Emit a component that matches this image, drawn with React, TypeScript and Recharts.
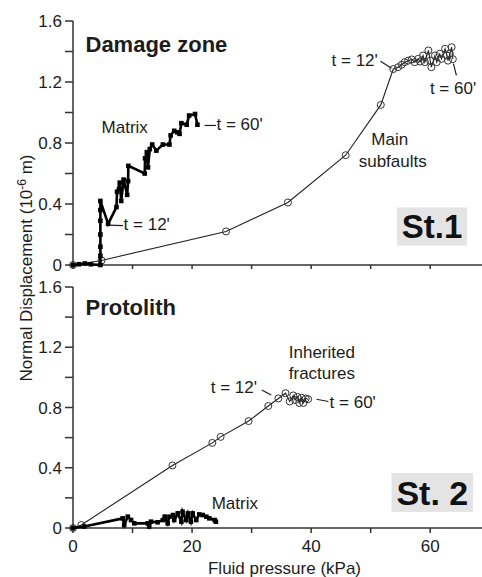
import React from 'react'
import {
  ScatterChart,
  Scatter,
  XAxis,
  YAxis,
  ReferenceDot,
  ReferenceLine,
  ReferenceArea,
} from 'recharts'

const FONT = '"Liberation Sans", Arial, Helvetica, sans-serif'
const INK = '#1c1c1c'

const xTicks = [0, 10, 20, 30, 40, 50, 60]
const yTicks = [0, 0.2, 0.4, 0.6, 0.8, 1.0, 1.2, 1.4, 1.6]

// St.1 (damage zone) - main subfaults, open circles
const st1FaultX = [0, 4.8, 25.7, 36.1, 45.8, 51.7, 53.8, 54.6, 55.2, 55.7, 56.3, 56.9, 57.4, 58.0, 58.3, 58.8, 59.1, 59.7, 60.0, 60.2, 60.8, 61.1, 61.6, 61.9, 62.5, 62.8, 63.0, 63.3, 63.6, 63.8]
const st1FaultY = [0, 0.03, 0.22, 0.41, 0.72, 1.05, 1.285, 1.297, 1.313, 1.33, 1.34, 1.348, 1.33, 1.352, 1.334, 1.374, 1.33, 1.407, 1.34, 1.297, 1.374, 1.33, 1.385, 1.352, 1.418, 1.374, 1.34, 1.385, 1.428, 1.35]

// St.1 - matrix, filled squares
const st1MatrixX = [0, 1, 2, 3, 4.6, 4.6, 4.6, 4.6, 4.6, 4.6, 4.6, 5.9, 7.3, 7.4, 7.85, 8.1, 8.5, 9.1, 9.25, 9.3, 12.05, 12.1, 12.4, 12.6, 12.9, 13.3, 14.0, 15.1, 16.2, 16.4, 17.0, 17.5, 17.9, 18.2, 19.1, 19.5, 20.5, 20.9]
const st1MatrixY = [0, 0.005, 0.01, 0.005, 0, 0.06, 0.12, 0.2, 0.29, 0.36, 0.42, 0.27, 0.38, 0.48, 0.54, 0.42, 0.56, 0.46, 0.55, 0.65, 0.6, 0.7, 0.74, 0.64, 0.76, 0.79, 0.75, 0.79, 0.79, 0.85, 0.88, 0.87, 0.86, 0.93, 0.92, 0.98, 0.99, 0.92]

// St.2 (protolith) - inherited fractures, open circles
const st2FractX = [0, 1.4, 16.7, 23.4, 24.8, 29.5, 32.8, 34.5, 35.7, 36.4, 37.0, 37.3, 37.7, 38.0, 38.4, 38.7, 39.1, 39.5]
const st2FractY = [0, 0.02, 0.415, 0.565, 0.605, 0.71, 0.81, 0.86, 0.895, 0.84, 0.88, 0.85, 0.87, 0.83, 0.865, 0.83, 0.86, 0.855]

// St.2 - matrix, filled squares
const st2MatrixX = [0, 1.9, 8.35, 8.6, 9.2, 9.75, 10.3, 12.55, 12.8, 13.1, 14.2, 15.1, 15.4, 15.9, 16.2, 16.8, 17.0, 17.6, 18.2, 18.4, 19.0, 19.3, 19.8, 20.1, 20.7, 21.2, 21.8, 22.4, 22.9, 23.8, 24.0]
const st2MatrixY = [0, 0.01, 0.064, 0.02, 0.075, 0.053, 0.031, 0.031, 0.01, 0.042, 0.038, 0.053, 0.075, 0.031, 0.075, 0.086, 0.053, 0.097, 0.042, 0.108, 0.053, 0.097, 0.042, 0.097, 0.053, 0.09, 0.086, 0.075, 0.064, 0.053, 0.042]

const zip = (xs: number[], ys: number[]) => xs.map((x, i) => ({ x, y: ys[i] }))

const st1Fault = zip(st1FaultX, st1FaultY)
const st1Matrix = zip(st1MatrixX, st1MatrixY)
const st2Fract = zip(st2FractX, st2FractY)
const st2Matrix = zip(st2MatrixX, st2MatrixY)

const yFmt = (v: number) => {
  const t = Math.round(v * 10)
  if (t % 4 !== 0) return ''
  return t === 0 ? '0' : v.toFixed(1)
}

const circleShape = (p: any) => (
  <circle cx={p.cx} cy={p.cy} r={3.5} fill="none" stroke="#333" strokeWidth={1} />
)
const squareShape = (p: any) => (
  <rect x={p.cx - 2.3} y={p.cy - 2.3} width={4.6} height={4.6} fill="#000" />
)

type NoteOpts = { anchor?: 'start' | 'middle' | 'end'; size?: number; bold?: boolean }

function note(key: string, x: number, y: number, text: string, opts: NoteOpts = {}) {
  return (
    <ReferenceDot
      key={key}
      x={x}
      y={y}
      r={0}
      shape={(p: any) => (
        <text
          x={p.cx}
          y={p.cy}
          textAnchor={opts.anchor || 'start'}
          fontSize={opts.size || 17}
          fontWeight={opts.bold ? 'bold' : 'normal'}
          fontFamily={FONT}
          fill={INK}
        >
          {text}
        </text>
      )}
    />
  )
}

function seg(key: string, x1: number, y1: number, x2: number, y2: number) {
  return (
    <ReferenceLine
      key={key}
      segment={[{ x: x1, y: y1 }, { x: x2, y: y2 }]}
      stroke={INK}
      strokeWidth={1.2}
    />
  )
}

function Axes({ bottomLabels }: { bottomLabels: boolean }) {
  const axisStyle = { stroke: '#333', strokeWidth: 1.5 }
  return [
    <XAxis
      key="xb"
      type="number"
      dataKey="x"
      domain={[0, 68.7]}
      ticks={xTicks}
      interval={0}
      height={bottomLabels ? 49 : 10}
      tickSize={bottomLabels ? 5 : 4}
      tickMargin={7}
      axisLine={axisStyle}
      tickLine={axisStyle}
      tick={{ fill: INK, fontSize: 17, fontFamily: FONT }}
      tickFormatter={(v: number) => (bottomLabels && v % 20 === 0 ? String(v) : '')}
      label={
        bottomLabels
          ? {
              value: 'Fluid pressure (kPa)',
              position: 'insideBottom',
              offset: 3,
              dx: 7,
              fill: INK,
              fontSize: 17,
              fontFamily: FONT,
            }
          : undefined
      }
    />,
    <XAxis
      key="xt"
      xAxisId="top"
      orientation="top"
      type="number"
      domain={[0, 68.7]}
      height={0}
      tick={false}
      tickLine={false}
      axisLine={axisStyle}
    />,
    <YAxis
      key="y"
      type="number"
      dataKey="y"
      domain={[0, 1.6]}
      ticks={yTicks}
      interval={0}
      width={73}
      tickSize={8}
      tickMargin={3}
      axisLine={axisStyle}
      tickLine={axisStyle}
      tick={{ fill: INK, fontSize: 17, fontFamily: FONT }}
      tickFormatter={yFmt}
    />,
  ]
}

export default function App() {
  return (
    <div
      style={{
        position: 'absolute',
        left: 0,
        top: 0,
        width: 482,
        height: 577,
        background: '#fff',
        overflow: 'hidden',
        fontFamily: FONT,
      }}
    >
      {/* St.1 - damage zone */}
      <div style={{ position: 'absolute', left: 0, top: 0 }}>
        <ScatterChart width={482} height={275} margin={{ top: 21, right: 0, bottom: 0, left: 0 }}>
          {Axes({ bottomLabels: false })}
          <ReferenceArea x1={54.4} x2={66.2} y1={0.128} y2={0.377} fill="#e4e4e4" fillOpacity={1} stroke="none"
            label={{ value: 'St.1', position: 'center', fontSize: 33, fontWeight: 'bold', fill: '#111', fontFamily: FONT }} />
          <Scatter data={st1Fault} line={{ stroke: '#222', strokeWidth: 1.1 }} shape={circleShape} isAnimationActive={false} />
          <Scatter data={st1Matrix} line={{ stroke: '#000', strokeWidth: 2.6 }} shape={squareShape} isAnimationActive={false} />
          {note('dz', 2.1, 1.395, 'Damage zone', { size: 22, bold: true })}
          {note('mx', 4.8, 0.864, 'Matrix')}
          {seg('s60m', 22.1, 0.915, 24.0, 0.915)}
          {note('t60m', 24.1, 0.882, "t = 60'")}
          {seg('s12m', 5.9, 0.262, 8.4, 0.258)}
          {note('t12m', 8.5, 0.231, "t = 12'")}
          {note('main', 53.2, 0.784, 'Main', { anchor: 'middle' })}
          {note('subf', 53.7, 0.641, 'subfaults', { anchor: 'middle' })}
          {seg('s12f', 51.65, 1.336, 53.5, 1.29)}
          {note('t12f', 51.2, 1.308, "t = 12'", { anchor: 'end' })}
          {seg('s60f', 63.9, 1.32, 64.4, 1.243)}
          {note('t60f', 59.95, 1.123, "t = 60'")}
        </ScatterChart>
      </div>

      {/* St.2 - protolith */}
      <div style={{ position: 'absolute', left: 0, top: 276 }}>
        <ScatterChart width={482} height={301} margin={{ top: 11, right: 0, bottom: 0, left: 0 }}>
          {Axes({ bottomLabels: true })}
          <ReferenceArea x1={53.5} x2={67.2} y1={0.106} y2={0.365} fill="#e4e4e4" fillOpacity={1} stroke="none"
            label={{ value: 'St. 2', position: 'center', fontSize: 34, fontWeight: 'bold', fill: '#111', fontFamily: FONT }} />
          <Scatter data={st2Fract} line={{ stroke: '#222', strokeWidth: 1.1 }} shape={circleShape} isAnimationActive={false} />
          <Scatter data={st2Matrix} line={{ stroke: '#000', strokeWidth: 2.6 }} shape={squareShape} isAnimationActive={false} />
          {note('pr', 2.1, 1.414, 'Protolith', { size: 22, bold: true })}
          {note('inh', 41.8, 1.13, 'Inherited', { anchor: 'middle' })}
          {note('frc', 41.8, 0.99, 'fractures', { anchor: 'middle' })}
          {seg('s12i', 31.7, 0.916, 33.3, 0.883)}
          {note('t12i', 30.9, 0.894, "t = 12'", { anchor: 'end' })}
          {seg('s60i', 40.9, 0.855, 42.9, 0.84)}
          {note('t60i', 43.1, 0.795, "t = 60'")}
          {note('mx2', 23.3, 0.124, 'Matrix')}
        </ScatterChart>
      </div>

      {/* shared y axis title */}
      <svg width={482} height={577} style={{ position: 'absolute', left: 0, top: 0, pointerEvents: 'none' }}>
        <text transform="translate(32,268) rotate(-90)" textAnchor="middle" fontSize={17} fontFamily={FONT} fill={INK}>
          Normal Displacement (10
          <tspan dy={-6} fontSize={12}>-6</tspan>
          <tspan dy={6}> m)</tspan>
        </text>
      </svg>
    </div>
  )
}
